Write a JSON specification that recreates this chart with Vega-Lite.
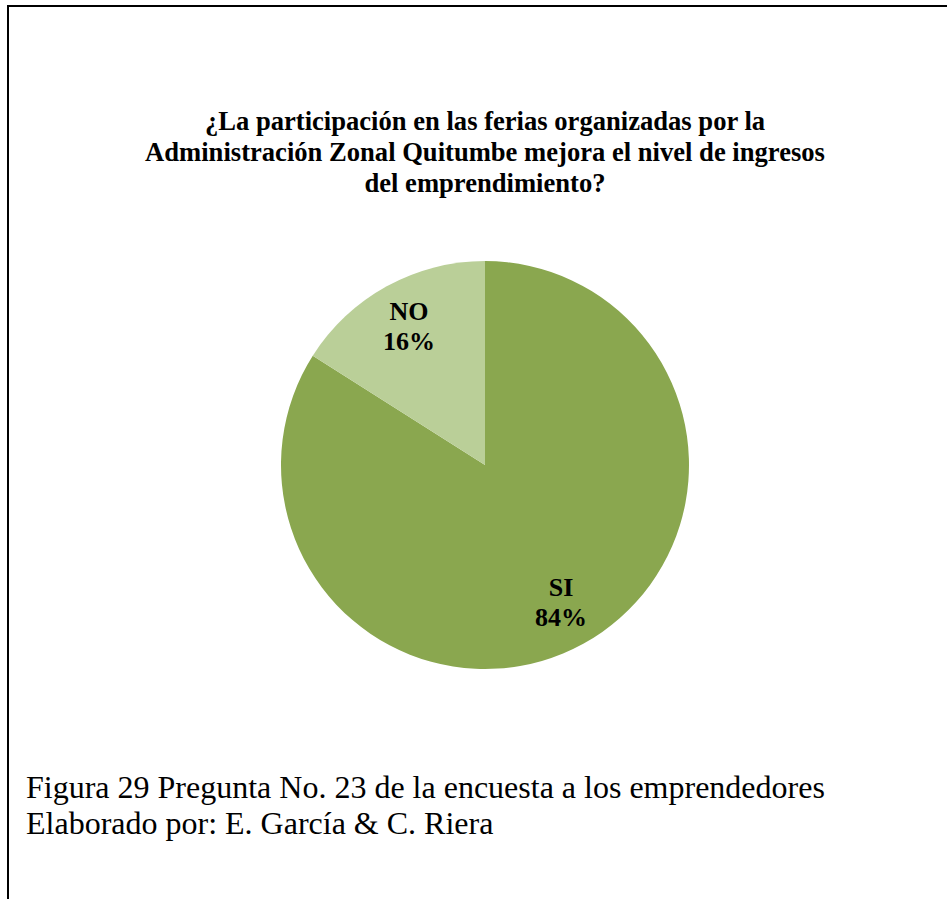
{
  "$schema": "https://vega.github.io/schema/vega-lite/v6.json",
  "autosize": {"type": "none"},
  "padding": {"left": 8, "top": 6, "right": -15, "bottom": -25},
  "width": 954,
  "height": 918,
  "background": "#ffffff",
  "view": {"stroke": "#000000", "strokeWidth": 2, "fill": "#ffffff"},
  "config": {
    "font": "Liberation Serif"
  },
  "title": {
    "text": ["¿La participación en las ferias organizadas por la", "Administración Zonal Quitumbe mejora el nivel de ingresos", "del emprendimiento?"],
    "orient": "top",
    "anchor": "middle",
    "frame": "group",
    "offset": -192,
    "font": "Liberation Serif",
    "fontSize": 26.6,
    "fontWeight": "bold",
    "lineHeight": 31,
    "color": "#000000"
  },
  "layer": [
    {
      "data": {"values": [
        {"respuesta": "SI", "porcentaje": 84, "etiqueta": "SI\n84%"},
        {"respuesta": "NO", "porcentaje": 16, "etiqueta": "NO\n16%"}
      ]},
      "layer": [
        {
          "mark": {"type": "arc", "outerRadius": 204, "stroke": null},
          "encoding": {
            "theta": {"field": "porcentaje", "type": "quantitative", "stack": true},
            "order": {"field": "respuesta", "sort": "descending"},
            "color": {
              "field": "respuesta",
              "type": "nominal",
              "scale": {"domain": ["SI", "NO"], "range": ["#8AA74F", "#BACF98"]},
              "legend": null
            }
          }
        },
        {
          "mark": {"type": "text", "radius": 158, "dy": -15, "font": "Liberation Serif", "fontSize": 26, "fontWeight": "bold", "lineBreak": "\n", "lineHeight": 30, "align": "center", "baseline": "middle", "color": "#000000"},
          "encoding": {
            "theta": {"field": "porcentaje", "type": "quantitative", "stack": true},
            "order": {"field": "respuesta", "sort": "descending"},
            "text": {"field": "etiqueta", "type": "nominal"}
          }
        }
      ]
    },
    {
      "data": {"values": [
        {"texto": "Figura 29 Pregunta No. 23 de la encuesta a los emprendedores\nElaborado por: E. García  & C. Riera"}
      ]},
      "mark": {"type": "text", "align": "left", "baseline": "alphabetic", "x": 18, "y": 792, "font": "Liberation Serif", "fontSize": 32, "fontWeight": "normal", "lineBreak": "\n", "lineHeight": 36, "color": "#000000"},
      "encoding": {
        "text": {"field": "texto", "type": "nominal"}
      }
    }
  ]
}
